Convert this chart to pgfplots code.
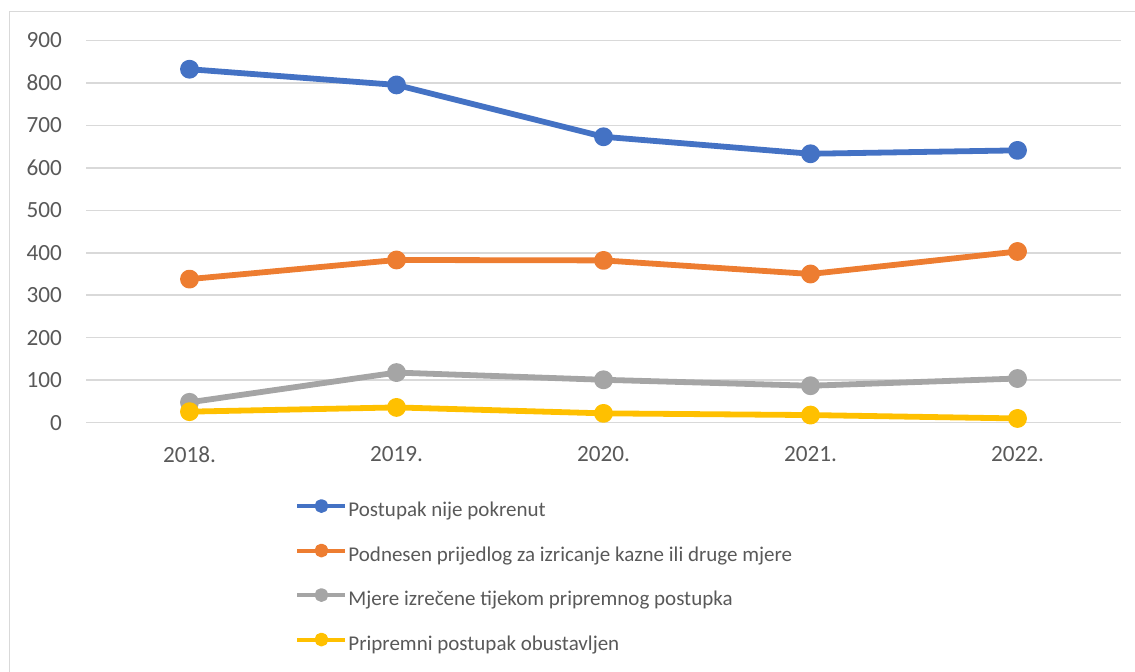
\documentclass[border=0pt]{standalone}
\usepackage{fontspec}
\setmainfont{Carlito}
\usepackage{pgfplots}
\pgfplotsset{compat=1.18}
\definecolor{cblue}{HTML}{4472C4}
\definecolor{corange}{HTML}{ED7D31}
\definecolor{cgray}{HTML}{A5A5A5}
\definecolor{cyellow}{HTML}{FFC000}
\definecolor{gridc}{HTML}{D9D9D9}
\definecolor{textc}{HTML}{595959}
\begin{document}
\begin{tikzpicture}
\useasboundingbox (0pt,0pt) rectangle (567.5pt,335.5pt);
\draw[color=gridc, line width=0.75pt] (4.75pt,-5pt) -- (4.75pt,329.75pt) -- (575pt,329.75pt);
\begin{axis}[
  at={(43pt,124.15pt)}, anchor=south west,
  scale only axis, width=517.5pt, height=191.2pt,
  xmin=-0.5, xmax=4.5, ymin=0, ymax=900,
  ytick={0,100,...,900},
  xtick={0,1,2,3,4},
  xticklabels={2018.,2019.,2020.,2021.,2022.},
  ymajorgrids, grid style={gridc, line width=0.75pt},
  axis line style={draw=none},
  major tick length=0pt,
  tick label style={font=\fontsize{11.6}{13}\selectfont, text=textc},
  yticklabel style={xshift=-8.5pt},
  xticklabel style={yshift=-8.5pt},
  /pgf/number format/assume math mode=true,
  clip=false,
  legend cell align=left,
  legend style={at={(0.202,-0.203)}, anchor=north west, draw=none, fill=none,
    font=\fontsize{10.5}{13}\selectfont, text=textc, row sep=11.75pt, inner sep=0pt,
    nodes={inner sep=0pt, text height=8pt, text depth=2.5pt}, column sep=0.5pt},
  legend image code/.code={\draw[#1, line width=2pt, mark options={scale=0.75}, mark repeat=2, mark phase=2] plot coordinates {(0pt,2.6pt) (12pt,2.6pt) (24pt,2.6pt)};},
  every axis plot/.append style={line width=2.9pt, mark=*, mark size=3.25pt, line join=round},
]
\addplot[color=cblue, mark options={fill=cblue, draw=cblue}] coordinates {(0,832) (1,795) (2,673) (3,633) (4,641)};
\addlegendentry{Postupak nije pokrenut}
\addplot[color=corange, mark options={fill=corange, draw=corange}] coordinates {(0,338) (1,383) (2,382) (3,350) (4,403)};
\addlegendentry{Podnesen prijedlog za izricanje kazne ili druge mjere}
\addplot[color=cgray, mark options={fill=cgray, draw=cgray}] coordinates {(0,48) (1,118) (2,101) (3,87) (4,104)};
\addlegendentry{Mjere izrečene tijekom pripremnog postupka}
\addplot[color=cyellow, mark options={fill=cyellow, draw=cyellow}] coordinates {(0,26) (1,36) (2,22) (3,18) (4,10)};
\addlegendentry{Pripremni postupak obustavljen}
\end{axis}
\end{tikzpicture}
\end{document}
